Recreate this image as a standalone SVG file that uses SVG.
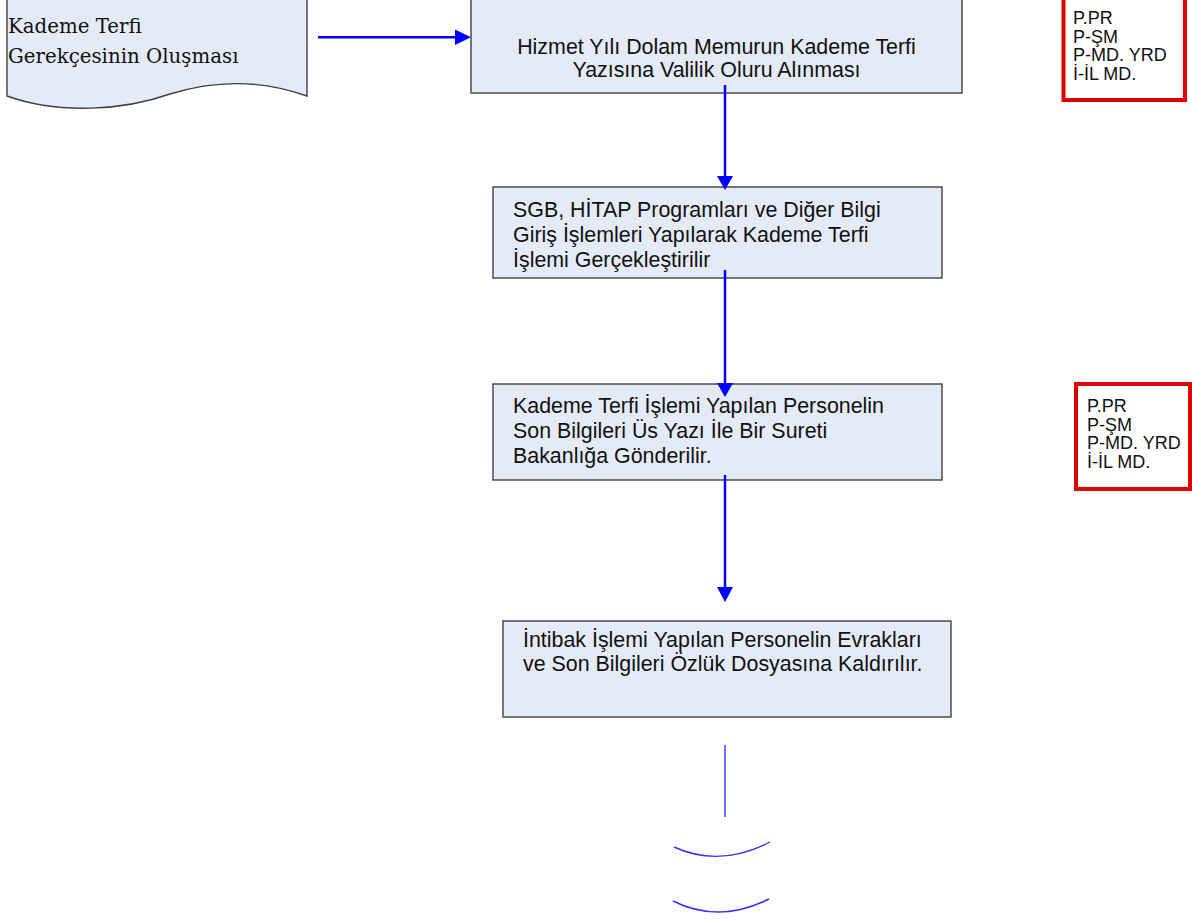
<svg xmlns="http://www.w3.org/2000/svg" width="1192" height="919" viewBox="0 0 1192 919">
<defs>
<style>
.box{fill:#E5EBF6;stroke:#404040;stroke-width:1.4}
.red{fill:#FFFFFF;stroke:#E00000;stroke-width:4}
.t{font-family:"Liberation Sans",Arial,sans-serif;font-size:21.4px;fill:#111}
.ts{font-family:"Liberation Sans",Arial,sans-serif;font-size:18px;fill:#111}
.serif{font-family:"DejaVu Serif","Liberation Serif",serif;font-size:19.8px;fill:#111}
.conn{stroke:#0000FF;stroke-width:2.5;fill:none}
.thin{stroke:#3030FF;stroke-width:1.4;fill:none}
.head{fill:#0000FF}
</style>
</defs>
<rect width="1192" height="919" fill="#FFFFFF"/>
<g id="doc">
<path class="box" d="M7,-10 L307,-10 L307,96 C262,80 215,80 170,94 C125,110 60,115 7,96 Z"/>
<text class="serif" x="8" y="33">Kademe Terfi</text>
<text class="serif" x="8" y="63">Gerekçesinin Oluşması</text>
</g>
<g id="box1">
<rect class="box" x="471" y="-20" width="491" height="113"/>
<text class="t" x="716.5" y="54" text-anchor="middle">Hizmet Yılı Dolam Memurun Kademe Terfi</text>
<text class="t" x="716.5" y="77" text-anchor="middle">Yazısına Valilik Oluru Alınması</text>
</g>
<g id="box2">
<rect class="box" x="493" y="187" width="449" height="91"/>
<text class="t" x="513" y="217">SGB, HİTAP Programları ve Diğer Bilgi</text>
<text class="t" x="513" y="242">Giriş İşlemleri Yapılarak Kademe Terfi</text>
<text class="t" x="513" y="267">İşlemi Gerçekleştirilir</text>
</g>
<g id="box3">
<rect class="box" x="493" y="384" width="449" height="96"/>
<text class="t" x="513" y="413">Kademe Terfi İşlemi Yapılan Personelin</text>
<text class="t" x="513" y="438">Son Bilgileri Üs Yazı İle Bir Sureti</text>
<text class="t" x="513" y="463">Bakanlığa Gönderilir.</text>
</g>
<g id="box4">
<rect class="box" x="503" y="621" width="448" height="96"/>
<text class="t" x="523" y="647">İntibak İşlemi Yapılan Personelin Evrakları</text>
<text class="t" x="523" y="671">ve Son Bilgileri Özlük Dosyasına Kaldırılır.</text>
</g>
<g id="note1">
<rect class="red" x="1063.5" y="-20" width="121.5" height="120"/>
<text class="ts" x="1073" y="24">P.PR</text>
<text class="ts" x="1073" y="42.5">P-ŞM</text>
<text class="ts" x="1073" y="61">P-MD. YRD</text>
<text class="ts" x="1073" y="79.5">İ-İL MD.</text>
</g>
<g id="note2">
<rect class="red" x="1076" y="384" width="114" height="105"/>
<text class="ts" x="1087" y="412">P.PR</text>
<text class="ts" x="1087" y="430.5">P-ŞM</text>
<text class="ts" x="1087" y="449">P-MD. YRD</text>
<text class="ts" x="1087" y="467.5">İ-İL MD.</text>
</g>
<g id="connectors">
<line class="conn" x1="318" y1="37.3" x2="457" y2="37.3"/>
<polygon class="head" points="455,29.5 471,37.3 455,45"/>
<line class="conn" x1="725" y1="85" x2="725" y2="178"/>
<polygon class="head" points="717,176 733,176 725,190"/>
<line class="conn" x1="725" y1="270" x2="725" y2="385"/>
<polygon class="head" points="717,383 733,383 725,397"/>
<line class="conn" x1="725" y1="475" x2="725" y2="589"/>
<polygon class="head" points="717,587 733,587 725,602"/>
<line class="thin" x1="725" y1="745" x2="725" y2="817"/>
<path class="thin" d="M674,847 Q720,868 770,842"/>
<path class="thin" d="M673,901 Q719,924 769,899"/>
</g>
</svg>
